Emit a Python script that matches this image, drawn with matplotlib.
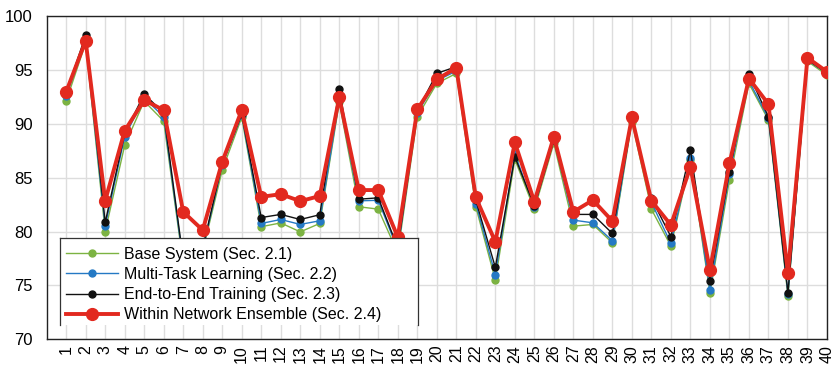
import matplotlib
matplotlib.use("Agg")
import matplotlib.pyplot as plt
from matplotlib.lines import Line2D
from matplotlib.patches import Rectangle

plt.rcParams['font.family'] = ['Liberation Sans', 'DejaVu Sans']

categories = list(range(1, 41))
tick_labels = [str(c) for c in categories]

base = [92.1, 97.5, 80.0, 88.0, 92.1, 90.25, 77.0, 78.2, 85.7, 90.6,
        80.45, 80.8, 79.97, 80.75, 92.0, 82.3, 82.08, 78.0, 90.65, 93.75,
        94.68, 82.3, 75.5, 86.7, 82.05, 88.2, 80.5, 80.66, 78.95, 90.2,
        82.08, 78.65, 86.6, 74.3, 84.77, 93.75, 90.34, 74.0, 95.8, 94.52]
multitask = [92.6, 97.6, 80.5, 88.8, 92.4, 90.65, 77.2, 78.3, 86.2, 90.8,
             80.75, 81.12, 80.66, 81.0, 92.2, 82.85, 82.9, 78.3, 91.0, 94.0,
             94.9, 82.6, 76.0, 87.2, 82.3, 88.5, 81.06, 80.81, 79.14, 90.4,
             82.7, 78.9, 86.8, 74.56, 85.3, 94.0, 90.5, 74.2, 95.9, 94.7]
end2end = [92.9, 98.2, 80.84, 89.1, 92.76, 91.0, 77.4, 78.5, 86.3, 90.9,
           81.3, 81.59, 81.12, 81.56, 93.22, 83.0, 83.13, 78.5, 91.2, 94.68,
           95.3, 82.9, 76.67, 86.94, 82.36, 88.5, 81.59, 81.59, 79.82, 90.4,
           83.07, 79.52, 87.56, 75.43, 85.55, 94.58, 90.65, 74.31, 95.95, 94.7]
ensemble = [92.97, 97.7, 82.85, 89.35, 92.2, 91.27, 81.83, 80.13, 86.47, 91.27,
            83.22, 83.47, 82.82, 83.3, 92.45, 83.85, 83.85, 79.48, 91.33, 94.12,
            95.2, 83.16, 79.05, 88.27, 82.76, 88.8, 81.83, 82.92, 80.97, 90.59,
            82.85, 80.6, 86.0, 76.42, 86.32, 94.2, 91.83, 76.11, 96.13, 94.83]

series_labels = ["Base System (Sec. 2.1)", "Multi-Task Learning (Sec. 2.2)",
                 "End-to-End Training (Sec. 2.3)", "Within Network Ensemble (Sec. 2.4)"]
yticks = [70, 75, 80, 85, 90, 95, 100]

fig = plt.figure(figsize=(8.36, 3.69), dpi=100)
ax = fig.add_axes([0.0558, 0.0805, 0.9334, 0.876])

ax.plot(categories, base, color='#7cb342', lw=1.0, marker='o', ms=5, label=series_labels[0], zorder=3)
ax.plot(categories, multitask, color='#2479c4', lw=1.0, marker='o', ms=5, label=series_labels[1], zorder=4)
ax.plot(categories, end2end, color='#111111', lw=1.0, marker='o', ms=5, label=series_labels[2], zorder=5)
ax.plot(categories, ensemble, color='#e2291f', lw=2.8, marker='o', ms=8.5, label=series_labels[3], zorder=6)

ax.set_xlim(0, 40)
ax.set_ylim(70, 100)
ax.set_yticks(yticks)
ax.set_yticklabels([str(v) for v in yticks], fontsize=12)
ax.set_xticks(categories)
ax.set_xticklabels(tick_labels, rotation=90, fontsize=11.5)
ax.tick_params(axis='x', length=0, pad=4)
ax.tick_params(axis='y', length=0, pad=10)
ax.grid(True, color='#dddddd', lw=1.0, zorder=0)
ax.set_axisbelow(True)
for s in ax.spines.values():
    s.set_color('#222222')
    s.set_linewidth(1.0)

# legend box (white, open at the bottom)
bx0, bx1, by0, by1 = 0.017, 0.476, 0.044, 0.313
ax.add_patch(Rectangle((bx0, by0), bx1 - bx0, by1 - by0, transform=ax.transAxes,
                       facecolor='white', edgecolor='none', zorder=9))
for xs, ys in [((bx0, bx0), (by0, by1)), ((bx0, bx1), (by1, by1)), ((bx1, bx1), (by0, by1))]:
    ax.add_line(Line2D(xs, ys, transform=ax.transAxes, color='#333333', lw=0.9, zorder=11))

leg = ax.legend(loc='upper left', bbox_to_anchor=(bx0 - 0.004, by1), fontsize=11.5,
                handlelength=3.3, handletextpad=0.35, labelspacing=0.32,
                borderpad=0.55, borderaxespad=0, frameon=False)
leg.set_zorder(12)

fig.savefig('out.png', dpi=100)
